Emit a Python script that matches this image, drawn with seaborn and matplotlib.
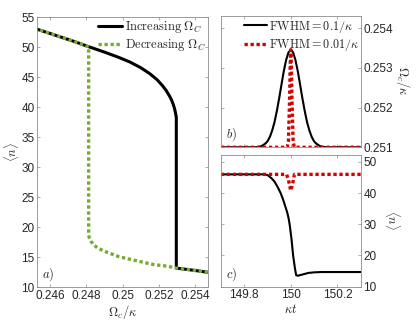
import matplotlib
matplotlib.use('Agg')
import matplotlib.pyplot as plt
import numpy as np
import pandas as pd
import seaborn as sns

# panel a) hysteresis
inc_x = [0.2453, 0.2463, 0.2473, 0.24813, 0.2490, 0.2498, 0.2504, 0.2510, 0.2515, 0.2519,
         0.2522, 0.2524, 0.2526, 0.2527, 0.2528, 0.25287, 0.25292, 0.25295, 0.25296,
         0.25296, 0.2535, 0.2540, 0.2547]
inc_y = [53.0, 52.0, 51.0, 50.1, 49.2, 48.3, 47.55, 46.6, 45.6, 44.6,
         43.6, 42.8, 41.8, 41.2, 40.4, 39.7, 39.0, 38.5, 38.3,
         13.2, 13.0, 12.8, 12.5]

dec_x = [0.2547, 0.2540, 0.2535, 0.25296, 0.2525, 0.2517, 0.2508, 0.2498, 0.2490, 0.2486,
         0.2484, 0.24825, 0.24816, 0.24813, 0.24813, 0.2473, 0.2463, 0.2453]
dec_y = [12.5, 12.8, 13.0, 13.2, 13.5, 13.8, 14.4, 15.1, 16.0, 16.6,
         17.1, 17.7, 18.3, 18.8, 50.1, 51.0, 52.0, 53.0]

# panel b) pump pulses
t_wide = [149.7, 149.85, 149.86, 149.87, 149.88, 149.89, 149.9, 149.91, 149.92, 149.93, 149.94,
          149.95, 149.96, 149.97, 149.98, 149.99, 150.0, 150.01, 150.02, 150.03, 150.04,
          150.05, 150.06, 150.07, 150.08, 150.09, 150.1, 150.11, 150.12, 150.13, 150.14,
          150.15, 150.3]
om_wide = [0.25100, 0.25100, 0.25101, 0.25102, 0.25105, 0.25109, 0.25115, 0.25126, 0.25142, 0.25163, 0.25191,
           0.25223, 0.25258, 0.25292, 0.25320, 0.25339, 0.25346, 0.25339, 0.25320, 0.25292, 0.25258,
           0.25223, 0.25191, 0.25163, 0.25142, 0.25126, 0.25115, 0.25109, 0.25105, 0.25102, 0.25101,
           0.25100, 0.25100]
t_narrow = [149.7, 149.985, 149.99, 149.995, 149.9975, 150.0, 150.0025, 150.005, 150.01, 150.015, 150.3]
om_narrow = [0.25100, 0.25100, 0.25116, 0.25223, 0.25307, 0.25346, 0.25307, 0.25223, 0.25116, 0.25100, 0.25100]

# panel c) photon number response
tn_wide = [149.7, 149.88, 149.9, 149.918, 149.93, 149.946, 149.957, 149.967, 149.977, 149.985,
           149.991, 149.996, 150.003, 150.01, 150.018, 150.023, 150.03, 150.045, 150.075, 150.1,
           150.132, 150.3]
n_wide = [46.0, 46.0, 45.8, 44.7, 43.7, 41.6, 39.9, 37.9, 35.6, 33.7,
          31.8, 29.5, 25.3, 20.0, 15.8, 13.7, 13.5, 13.8, 14.4, 14.6,
          14.7, 14.7]
tn_narrow = [149.7, 149.982, 149.99, 150.0, 150.008, 150.016, 150.3]
n_narrow = [46.0, 46.0, 44.2, 40.8, 43.0, 46.0, 46.0]

xticks_a = [0.246, 0.248, 0.25, 0.252, 0.254]
xticklabels_a = ['0.246', '0.248', '0.25', '0.252', '0.254']
yticks_a = [10, 15, 20, 25, 30, 35, 40, 45, 50, 55]
xticks_t = [149.8, 150.0, 150.2]
xticklabels_t = ['149.8', '150', '150.2']
yticks_b = [0.251, 0.252, 0.253, 0.254]
yticklabels_b = ['0.251', '0.252', '0.253', '0.254']
yticks_c = [10, 20, 30, 40, 50]

sns.set_style('ticks')
plt.rcParams['font.family'] = ['Liberation Sans', 'DejaVu Sans']
plt.rcParams['mathtext.fontset'] = 'cm'
plt.rcParams['font.size'] = 8.5

green = '#77AC30'
red = '#D60000'
spine_col = '0.55'
tick_col = '#262626'

fig = plt.figure(figsize=(4.16, 3.23), dpi=100)
ax_a = fig.add_axes([0.0897, 0.1105, 0.410, 0.836])
ax_b = fig.add_axes([0.531, 0.544, 0.336, 0.4065])
ax_c = fig.add_axes([0.531, 0.1124, 0.336, 0.4077])

sns.lineplot(x=inc_x, y=inc_y, ax=ax_a, sort=False, estimator=None, color='k', lw=2.2,
             label=r'$\mathrm{Increasing}\ \Omega_C$')
sns.lineplot(x=dec_x, y=dec_y, ax=ax_a, sort=False, estimator=None, color=green, lw=2.4,
             linestyle=(0, (1, 0.8)), label=r'$\mathrm{Decreasing}\ \Omega_C$')
ax_a.set_xlim(0.2453, 0.2547)
ax_a.set_ylim(10, 55)
ax_a.set_xticks(xticks_a)
ax_a.set_xticklabels(xticklabels_a)
ax_a.set_yticks(yticks_a)
ax_a.set_xlabel(r'$\Omega_c/\kappa$', fontsize=9, labelpad=1)
ax_a.set_ylabel(r'$\langle n\rangle$', fontsize=9, va='center')
ax_a.yaxis.set_label_coords(-0.154, 0.5)
ax_a.legend(loc='upper right', bbox_to_anchor=(1.03, 1.02), frameon=False, fontsize=9,
            handlelength=1.9, handletextpad=0.2, labelspacing=0.15, borderaxespad=0.2)
ax_a.text(0.03, 0.046, r'$a)$', transform=ax_a.transAxes, fontsize=9, va='center')

sns.lineplot(x=t_wide, y=om_wide, ax=ax_b, sort=False, estimator=None, color='k', lw=1.5,
             label=r'$\mathrm{FWHM} = 0.1/\kappa$')
sns.lineplot(x=t_narrow, y=om_narrow, ax=ax_b, sort=False, estimator=None, color=red, lw=2.4,
             linestyle=(0, (1, 0.8)), label=r'$\mathrm{FWHM} = 0.01/\kappa$')
ax_b.set_xlim(149.7, 150.3)
ax_b.set_ylim(0.251, 0.25431)
ax_b.set_xticks(xticks_t)
ax_b.set_xticklabels([])
ax_b.set_yticks(yticks_b)
ax_b.set_yticklabels(yticklabels_b)
ax_b.yaxis.set_label_position('right')
ax_b.set_ylabel(r'$\Omega_c/\kappa$', fontsize=9, rotation=270, va='center', ha='center')
ax_b.yaxis.set_label_coords(1.303, 0.51)
ax_b.legend(loc='upper right', bbox_to_anchor=(1.04, 1.035), frameon=False, fontsize=8.7,
            handlelength=1.9, handletextpad=0.15, labelspacing=0.2, borderaxespad=0.2)
ax_b.text(0.035, 0.094, r'$b)$', transform=ax_b.transAxes, fontsize=9, va='center')

sns.lineplot(x=tn_wide, y=n_wide, ax=ax_c, sort=False, estimator=None, color='k', lw=1.5)
sns.lineplot(x=tn_narrow, y=n_narrow, ax=ax_c, sort=False, estimator=None, color=red, lw=2.4,
             linestyle=(0, (1, 0.8)))
ax_c.set_xlim(149.7, 150.3)
ax_c.set_ylim(10, 52.2)
ax_c.set_xticks(xticks_t)
ax_c.set_xticklabels(xticklabels_t)
ax_c.set_yticks(yticks_c)
ax_c.yaxis.set_label_position('right')
ax_c.set_ylabel(r'$\langle n\rangle$', fontsize=9, rotation=270, va='center', ha='center')
ax_c.yaxis.set_label_coords(1.231, 0.506)
ax_c.set_xlabel(r'$\kappa t$', fontsize=9, labelpad=1)
ax_c.text(0.035, 0.089, r'$c)$', transform=ax_c.transAxes, fontsize=9, va='center')

for ax in (ax_a, ax_b, ax_c):
    for sp in ax.spines.values():
        sp.set_visible(True)
        sp.set_color(spine_col)
        sp.set_linewidth(0.6)
    ax.tick_params(direction='in', length=2.5, width=0.5, color=spine_col, labelcolor=tick_col,
                   labelsize=8.5, top=True, right=True, left=True, bottom=True, pad=2)

for ax in (ax_b, ax_c):
    ax.tick_params(labelleft=False, labelright=True)

fig.savefig('out.png', dpi=100)
